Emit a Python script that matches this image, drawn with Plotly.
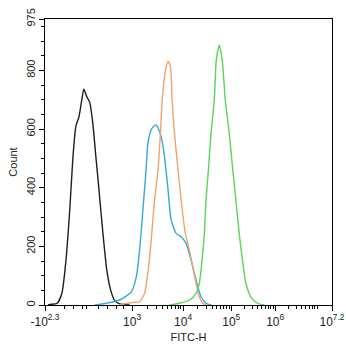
import numpy as np
import plotly.graph_objects as go

# FITC-H display position (decades on the biexponential display scale) and event counts
black_x = [1.00, 1.043, 1.196, 1.304, 1.391, 1.478, 1.543, 1.609, 1.674, 1.739, 1.783, 1.848,
           1.913, 1.978, 2.043, 2.109, 2.196, 2.283, 2.370, 2.457, 2.565, 2.783]
black_y = [0, 2, 5, 40, 150, 330, 500, 610, 640, 700, 736, 710,
           690, 620, 510, 400, 250, 120, 50, 15, 4, 0]

blue_x = [2.022, 2.276, 2.565, 2.820, 2.928, 3.000, 3.072, 3.146, 3.180, 3.261, 3.326, 3.363,
          3.398, 3.472, 3.543, 3.615, 3.689, 3.798, 3.907, 4.015, 4.124, 4.233, 4.341, 4.450, 4.565]
blue_y = [0, 6, 17, 45, 96, 187, 324, 471, 551, 600, 612, 614,
          605, 574, 506, 403, 290, 244, 233, 210, 153, 85, 28, 6, 0]

orange_x = [2.565, 2.739, 2.870, 3.000, 3.109, 3.180, 3.254, 3.326, 3.398, 3.457, 3.493, 3.565,
            3.622, 3.674, 3.710, 3.761, 3.833, 3.906, 3.999, 4.087, 4.159, 4.233, 4.304, 4.376, 4.478]
orange_y = [0, 6, 9, 11, 40, 108, 222, 358, 455, 590, 699, 801,
            830, 812, 699, 585, 471, 358, 244, 187, 131, 74, 28, 6, 0]

green_x = [3.652, 3.870, 4.087, 4.233, 4.304, 4.363, 4.413, 4.450, 4.507, 4.559, 4.630, 4.674,
           4.739, 4.804, 4.870, 4.957, 5.028, 5.102, 5.174, 5.246, 5.320, 5.428, 5.572, 5.717]
green_y = [0, 6, 17, 40, 74, 153, 244, 358, 471, 585, 699, 835,
           886, 835, 699, 585, 471, 358, 244, 153, 74, 28, 6, 0]

# display positions of the decade marks on the biexponential axis
x_tick_pos = [0.935, 2.835, 3.95, 5.0, 5.96, 7.2]
x_tick_text = ["-10<sup>2.3</sup>", "10<sup>3</sup>", "10<sup>4</sup>", "10<sup>5</sup>",
               "10<sup>6</sup>", "10<sup>7.2</sup>"]
y_tick_vals = [0, 200, 400, 600, 800, 975]
y_tick_text = ["0", "200", "400", "600", "800", "975"]

series = [
    (black_x, black_y, "#1e1e1e"),
    (blue_x, blue_y, "#35a9d3"),
    (orange_x, orange_y, "#eea46e"),
    (green_x, green_y, "#5ad65a"),
]

fig = go.Figure()
for xs, ys, col in series:
    fig.add_trace(go.Scatter(x=xs, y=ys, mode="lines",
                             line=dict(color=col, width=1.4, shape="spline", smoothing=0.6),
                             hoverinfo="skip", showlegend=False))

# log-style minor ticks inside each decade, spaced between neighbouring decade marks
decades = x_tick_pos[1:5]
minor_x = []
for a, b in zip(decades[:-1], decades[1:]):
    minor_x += [a + (b - a) * np.log10(k) for k in range(2, 10)]
step = decades[-1] - decades[-2]
minor_x += [decades[-1] + step * np.log10(k) for k in range(2, 10)]
minor_x += [decades[-1] + step + step * np.log10(k) for k in range(2, 10)
            if decades[-1] + step + step * np.log10(k) < 7.2]
minor_x += [1.35, 1.55, 1.75, 1.85, 2.1, 2.3, 2.5, 2.65]

font = "Liberation Sans, Arial, sans-serif"
fig.update_layout(
    width=346, height=350,
    margin=dict(l=45, r=14, t=19, b=45),
    paper_bgcolor="white", plot_bgcolor="white",
    font=dict(family=font, size=11, color="#222"),
    xaxis=dict(
        range=[0.935, 7.2], tickmode="array", tickvals=x_tick_pos, ticktext=x_tick_text,
        automargin=False,
        showgrid=False, zeroline=False, showline=True, linecolor="black", linewidth=1.2, mirror=True,
        ticks="outside", ticklen=5, tickcolor="black",
        minor=dict(tickvals=minor_x, ticks="outside", ticklen=3, tickcolor="black"),
        title=dict(text="FITC-H", font=dict(size=11), standoff=5),
        tickfont=dict(size=12),
    ),
    yaxis=dict(
        range=[0, 975], tickmode="array", tickvals=y_tick_vals, ticktext=y_tick_text, tickangle=-90,
        automargin=False,
        showgrid=False, zeroline=False, showline=True, linecolor="black", linewidth=1.2, mirror=True,
        ticks="outside", ticklen=5, tickcolor="black",
        minor=dict(dtick=50, ticks="outside", ticklen=3, tickcolor="black"),
        title=dict(text="Count", font=dict(size=11), standoff=4),
        tickfont=dict(size=11),
    ),
)

fig.write_html("out.html")
